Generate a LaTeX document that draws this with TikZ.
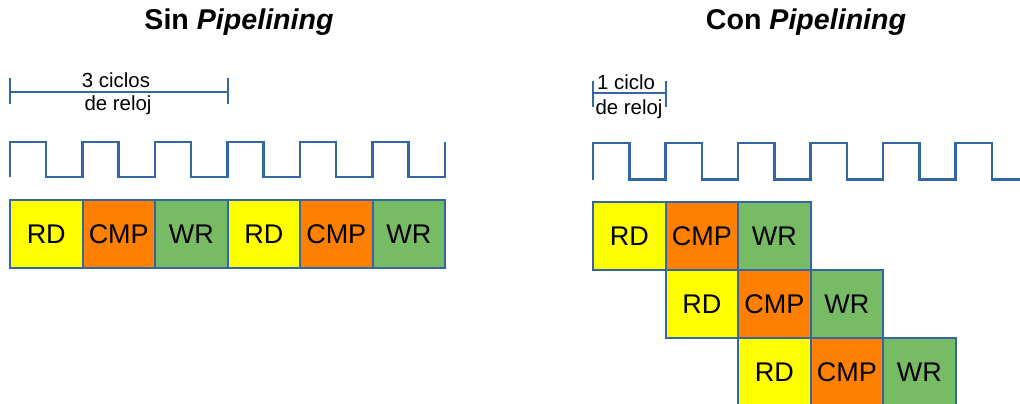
\documentclass[tikz,border=0pt]{standalone}
\usepackage{fontspec}
\setmainfont{Liberation Sans}
\usetikzlibrary{positioning}
\definecolor{rdcol}{RGB}{255,255,0}
\definecolor{cmpcol}{RGB}{255,128,0}
\definecolor{wrcol}{RGB}{119,188,101}
\definecolor{edgecol}{RGB}{52,101,164}

\begin{document}
\begin{tikzpicture}[
  x=0.5pt, y=-0.5pt,
  stage/.style={draw=edgecol, line width=1pt, outer sep=0pt, inner sep=0pt,
    minimum width=36.25pt, minimum height=34pt, font=\fontsize{13.5}{16}\selectfont},
  rd/.style={stage, fill=rdcol},
  cmp/.style={stage, fill=cmpcol},
  wr/.style={stage, fill=wrcol},
  title/.style={font=\fontsize{14.3}{17}\selectfont\bfseries},
  lbl/.style={font=\fontsize{10.2}{12}\selectfont, inner sep=0pt},
  clk/.style={draw=edgecol, line width=1.3pt},
  span/.style={draw=edgecol, line width=1pt}
]
\clip (0,0) rectangle (1020,403);

% ---------------- left: sin pipelining ----------------
\node[title] (tsin) at (239,22) {Sin \textit{Pipelining}};

% three clock cycles
\draw[span] (10,78) -- (10,104) (10,92) -- (228,92) (228,78) -- (228,104);
\node[lbl, anchor=base] (sa) at (116,87) {3 ciclos};
\node[lbl, anchor=base] (sb) at (118,110.5) {de reloj};

\draw[clk] (10,177) -- ++(0,-35) -- ++(36,0) -- ++(0,35) -- ++(36.5,0)
  -- ++(0,-35) -- ++(36,0) -- ++(0,35) -- ++(36.5,0)
  -- ++(0,-35) -- ++(36,0) -- ++(0,35) -- ++(36.5,0)
  -- ++(0,-35) -- ++(36,0) -- ++(0,35) -- ++(36.5,0)
  -- ++(0,-35) -- ++(36,0) -- ++(0,35) -- ++(36.5,0)
  -- ++(0,-35) -- ++(36,0) -- ++(0,35) -- ++(36.5,0) -- ++(0,-35);

\node[rd, anchor=north west] (rd1) at (10,200) {RD};
\node[cmp, right=0pt of rd1] (cmp1) {CMP};
\node[wr, right=0pt of cmp1] (wr1) {WR};
\node[rd, right=0pt of wr1] (rd2) {RD};
\node[cmp, right=0pt of rd2] (cmp2) {CMP};
\node[wr, right=0pt of cmp2] (wr2) {WR};

% ---------------- right: con pipelining ----------------
\node[title] (tcon) at (806,22) {Con \textit{Pipelining}};

% one clock cycle
\draw[span] (593,81) -- (593,107) (593,93) -- (666,93) (666,81) -- (666,107);
\node[lbl, anchor=base] (ca) at (626,89.5) {1 ciclo};
\node[lbl, anchor=base] (cb) at (629,114.5) {de reloj};

\draw[clk] (593,179.5) -- ++(0,-36.5) -- ++(36.5,0) -- ++(0,36.5) -- ++(36,0)
  -- ++(0,-36.5) -- ++(36.5,0) -- ++(0,36.5) -- ++(36,0)
  -- ++(0,-36.5) -- ++(36.5,0) -- ++(0,36.5) -- ++(36,0)
  -- ++(0,-36.5) -- ++(36.5,0) -- ++(0,36.5) -- ++(36,0)
  -- ++(0,-36.5) -- ++(36.5,0) -- ++(0,36.5) -- ++(36,0)
  -- ++(0,-36.5) -- ++(36.5,0) -- ++(0,36.5) -- (1030,179.5);

\node[rd, anchor=north west] (prd1) at (593,202) {RD};
\node[cmp, right=0pt of prd1] (pcmp1) {CMP};
\node[wr, right=0pt of pcmp1] (pwr1) {WR};

\node[rd, below=0pt of pcmp1] (prd2) {RD};
\node[cmp, right=0pt of prd2] (pcmp2) {CMP};
\node[wr, right=0pt of pcmp2] (pwr2) {WR};

\node[rd, below=0pt of pcmp2] (prd3) {RD};
\node[cmp, right=0pt of prd3] (pcmp3) {CMP};
\node[wr, right=0pt of pcmp3] (pwr3) {WR};

\end{tikzpicture}
\end{document}
